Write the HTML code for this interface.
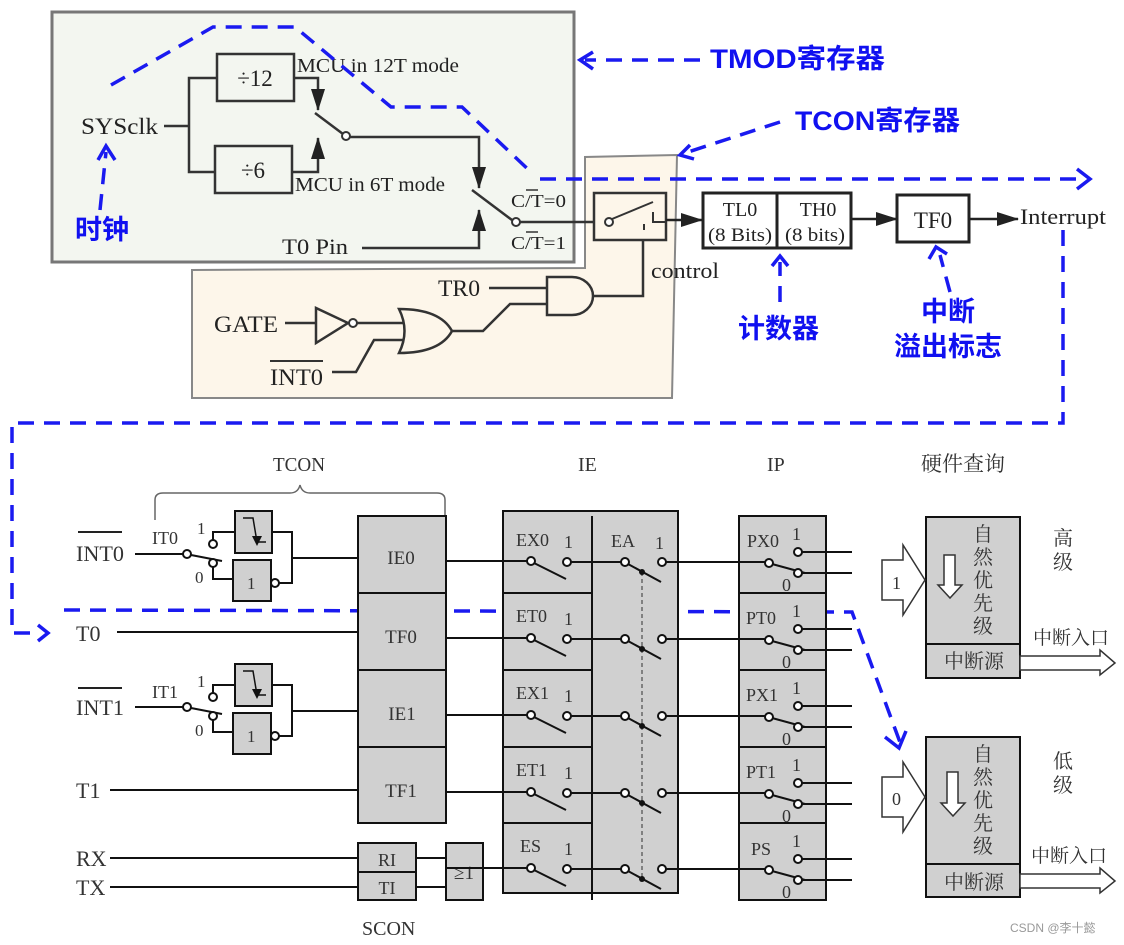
<!DOCTYPE html>
<html><head><meta charset="utf-8"><style>
html,body{margin:0;padding:0;background:#fff;}
svg{display:block;}
.s{font-family:"Liberation Serif","Noto Serif CJK SC",serif;fill:#222;}
.b{font-family:"Liberation Sans","Noto Sans CJK SC",sans-serif;font-weight:bold;fill:#1010f0;}
.k{font-family:"Liberation Serif","Noto Serif CJK SC",serif;fill:#333;}
</style></head><body>
<svg width="1124" height="945" viewBox="0 0 1124 945" xmlns="http://www.w3.org/2000/svg">
<defs>
<marker id="ah2" markerWidth="22" markerHeight="14" refX="21" refY="7" orient="auto" markerUnits="userSpaceOnUse"><path d="M0,0 L22,7 L0,14z" fill="#222"/></marker>
<g id="ierow">
 <line x1="446" y1="561" x2="528" y2="561" stroke="#111" stroke-width="2"/>
 <circle cx="531" cy="561" r="4" fill="#fff" stroke="#111" stroke-width="2"/>
 <line x1="534" y1="563" x2="566" y2="579" stroke="#111" stroke-width="2"/>
 <circle cx="567" cy="562" r="4" fill="#fff" stroke="#111" stroke-width="2"/>
 <line x1="571" y1="562" x2="621" y2="562" stroke="#111" stroke-width="2"/>
 <circle cx="625" cy="562" r="4" fill="#fff" stroke="#111" stroke-width="2"/>
 <line x1="628" y1="564" x2="661" y2="582" stroke="#111" stroke-width="2"/>
 <circle cx="642" cy="572" r="3" fill="#111"/>
 <circle cx="662" cy="562" r="4" fill="#fff" stroke="#111" stroke-width="2"/>
 <line x1="666" y1="562" x2="765" y2="562" stroke="#111" stroke-width="2"/>
 <circle cx="769" cy="563" r="4" fill="#fff" stroke="#111" stroke-width="2"/>
 <line x1="772" y1="564" x2="805" y2="573" stroke="#111" stroke-width="2"/>
 <circle cx="798" cy="552" r="4" fill="#fff" stroke="#111" stroke-width="2"/>
 <circle cx="798" cy="573" r="4" fill="#fff" stroke="#111" stroke-width="2"/>
 <line x1="802" y1="552" x2="852" y2="552" stroke="#111" stroke-width="2"/>
 <line x1="802" y1="573" x2="852" y2="573" stroke="#111" stroke-width="2"/>
 <text x="564" y="548" class="k" font-size="18">1</text>
 <text x="792" y="540" class="k" font-size="18">1</text>
 <text x="782" y="591" class="k" font-size="18">0</text>
</g>
<g id="intblk">
 <line x1="135" y1="554" x2="183" y2="554" stroke="#111" stroke-width="2"/>
 <circle cx="187" cy="554" r="4" fill="#fff" stroke="#111" stroke-width="2"/>
 <line x1="191" y1="555" x2="222" y2="561" stroke="#111" stroke-width="2"/>
 <circle cx="213" cy="544" r="4" fill="#fff" stroke="#111" stroke-width="2"/>
 <circle cx="213" cy="563" r="4" fill="#fff" stroke="#111" stroke-width="2"/>
 <polyline points="213,540 213,532 235,532" fill="none" stroke="#111" stroke-width="2"/>
 <polyline points="213,567 213,579 233,579" fill="none" stroke="#111" stroke-width="2"/>
 <rect x="235" y="511" width="37" height="42" fill="#d0d0d0" stroke="#111" stroke-width="2"/>
 <polyline points="243,518 253,518 257,542 266,542" fill="none" stroke="#111" stroke-width="1.5"/>
 <path d="M252,536 L262,536 L257,546z" fill="#111"/>
 <rect x="233" y="560" width="38" height="41" fill="#d0d0d0" stroke="#111" stroke-width="2"/>
 <text x="247" y="589" class="k" font-size="17">1</text>
 <circle cx="275" cy="583" r="4" fill="#fff" stroke="#111" stroke-width="2"/>
 <polyline points="272,532 292,532 292,583 279,583" fill="none" stroke="#111" stroke-width="2"/>
 <line x1="292" y1="558" x2="358" y2="558" stroke="#111" stroke-width="2"/>
 <text x="197" y="534" class="k" font-size="17">1</text>
 <text x="195" y="583" class="k" font-size="17">0</text>
</g>
</defs>

<rect x="52" y="12" width="522" height="250" fill="#f3f6f0" stroke="#777" stroke-width="3"/>
<polygon points="192,270 585,268 585,157 677,155 672,398 192,398" fill="#fdf6ea" stroke="#888" stroke-width="2"/>

<text x="81" y="134" class="s" font-size="23" textLength="77" lengthAdjust="spacingAndGlyphs">SYSclk</text>
<line x1="164" y1="126" x2="189" y2="126" stroke="#333" stroke-width="2.5"/>
<polyline points="217,78 189,78 189,172 215,172" fill="none" stroke="#333" stroke-width="2.5"/>
<rect x="217" y="54" width="77" height="47" fill="none" stroke="#333" stroke-width="2.5"/>
<text x="255" y="86" class="s" font-size="23" text-anchor="middle">÷12</text>
<rect x="215" y="146" width="77" height="47" fill="none" stroke="#333" stroke-width="2.5"/>
<text x="253" y="178" class="s" font-size="23" text-anchor="middle">÷6</text>
<polyline points="294,78 318,78 318,110" fill="none" stroke="#333" stroke-width="2.5" marker-end="url(#ah2)"/>
<polyline points="292,172 318,172 318,138" fill="none" stroke="#333" stroke-width="2.5" marker-end="url(#ah2)"/>
<text x="297" y="72" class="s" font-size="20" textLength="162" lengthAdjust="spacingAndGlyphs">MCU in 12T mode</text>
<text x="295" y="191" class="s" font-size="20" textLength="150" lengthAdjust="spacingAndGlyphs">MCU in 6T mode</text>
<line x1="315" y1="113" x2="343" y2="134" stroke="#333" stroke-width="2.5"/>
<circle cx="346" cy="136" r="4" fill="#fff" stroke="#333" stroke-width="2"/>
<polyline points="350,137 479,137 479,188" fill="none" stroke="#333" stroke-width="2.5" marker-end="url(#ah2)"/>
<line x1="472" y1="190" x2="512" y2="220" stroke="#333" stroke-width="2.5"/>
<circle cx="516" cy="222" r="4" fill="#fff" stroke="#333" stroke-width="2"/>
<text x="282" y="254" class="s" font-size="22" textLength="66" lengthAdjust="spacingAndGlyphs">T0 Pin</text>
<polyline points="362,248 479,248 479,210" fill="none" stroke="#333" stroke-width="2.5" marker-end="url(#ah2)"/>
<text x="511" y="207" class="s" font-size="18" textLength="55" lengthAdjust="spacingAndGlyphs">C/T=0</text>
<line x1="526" y1="190" x2="538" y2="190" stroke="#333" stroke-width="1.5"/>
<text x="511" y="249" class="s" font-size="18" textLength="55" lengthAdjust="spacingAndGlyphs">C/T=1</text>
<line x1="526" y1="232" x2="538" y2="232" stroke="#333" stroke-width="1.5"/>
<line x1="520" y1="222" x2="594" y2="222" stroke="#333" stroke-width="2.5"/>

<rect x="594" y="193" width="72" height="47" fill="none" stroke="#333" stroke-width="2.5"/>
<circle cx="609" cy="222" r="4" fill="#fff" stroke="#333" stroke-width="2"/>
<line x1="612" y1="219" x2="653" y2="202" stroke="#333" stroke-width="2"/>
<line x1="644" y1="224" x2="644" y2="230" stroke="#333" stroke-width="2"/>
<polyline points="653,212 653,222 666,222" fill="none" stroke="#333" stroke-width="2"/>
<line x1="666" y1="220" x2="702" y2="220" stroke="#222" stroke-width="2.5" marker-end="url(#ah2)"/>
<text x="651" y="278" class="s" font-size="22" textLength="68" lengthAdjust="spacingAndGlyphs">control</text>
<polyline points="643,240 643,296 593,296" fill="none" stroke="#333" stroke-width="2.5"/>
<rect x="703" y="193" width="74" height="55" fill="#fff" stroke="#222" stroke-width="3"/>
<rect x="777" y="193" width="74" height="55" fill="#fff" stroke="#222" stroke-width="3"/>
<text x="740" y="216" class="s" font-size="20" text-anchor="middle">TL0</text>
<text x="740" y="241" class="s" font-size="19" text-anchor="middle" textLength="64" lengthAdjust="spacingAndGlyphs">(8 Bits)</text>
<text x="818" y="216" class="s" font-size="20" text-anchor="middle">TH0</text>
<text x="815" y="241" class="s" font-size="19" text-anchor="middle" textLength="60" lengthAdjust="spacingAndGlyphs">(8 bits)</text>
<line x1="851" y1="219" x2="897" y2="219" stroke="#222" stroke-width="2.5" marker-end="url(#ah2)"/>
<rect x="897" y="195" width="72" height="47" fill="#fff" stroke="#222" stroke-width="3"/>
<text x="933" y="228" class="s" font-size="23" text-anchor="middle">TF0</text>
<line x1="969" y1="219" x2="1018" y2="219" stroke="#222" stroke-width="2.5" marker-end="url(#ah2)"/>
<text x="1020" y="224" class="s" font-size="22" textLength="86" lengthAdjust="spacingAndGlyphs">Interrupt</text>

<text x="438" y="296" class="s" font-size="23" textLength="42" lengthAdjust="spacingAndGlyphs">TR0</text>
<line x1="489" y1="288" x2="547" y2="288" stroke="#333" stroke-width="2.5"/>
<path d="M547,277 L572,277 A21,19 0 0 1 572,315 L547,315 Z" fill="none" stroke="#333" stroke-width="2.5"/>
<polyline points="547,304 510,304 483,331 452,331" fill="none" stroke="#333" stroke-width="2.5"/>
<text x="214" y="332" class="s" font-size="23" textLength="64" lengthAdjust="spacingAndGlyphs">GATE</text>
<line x1="285" y1="323" x2="316" y2="323" stroke="#333" stroke-width="2.5"/>
<polygon points="316,308 316,343 348,323" fill="none" stroke="#333" stroke-width="2.5"/>
<circle cx="353" cy="323" r="4" fill="#fff" stroke="#333" stroke-width="2"/>
<line x1="357" y1="323" x2="404" y2="323" stroke="#333" stroke-width="2.5"/>
<path d="M399,309 Q440,309 452,331 Q440,353 399,353 Q410,331 399,309Z" fill="none" stroke="#333" stroke-width="2.5"/>
<text x="270" y="385" class="s" font-size="23" textLength="53" lengthAdjust="spacingAndGlyphs">INT0</text>
<line x1="270" y1="361" x2="323" y2="361" stroke="#333" stroke-width="2"/>
<polyline points="332,372 356,372 374,340 404,340" fill="none" stroke="#333" stroke-width="2.5"/>

<g stroke="#1a1af0" stroke-width="3.5" fill="none" stroke-dasharray="16,10">
 <polyline points="111,85 213,27 295,27 391,107 462,107 532,173"/>
 <line x1="540" y1="179" x2="1085" y2="179"/>
 <polyline points="1063,230 1063,423 12,423 12,633 40,633"/>
 <polyline points="64,610 852,612 901,745"/>
 <line x1="700" y1="60" x2="585" y2="60"/>
 <line x1="780" y1="122" x2="685" y2="153"/>
 <line x1="100" y1="210" x2="106" y2="152"/>
 <line x1="780" y1="302" x2="780" y2="262"/>
 <line x1="950" y1="292" x2="940" y2="255"/>
</g>
<g stroke="#1a1af0" stroke-width="3.5" fill="none">
 <polyline points="1077,169 1090,179 1077,189"/>
 <polyline points="38,625 48,633 38,641"/>
 <polyline points="885,737 899,748 906,731"/>
 <polyline points="593,52 580,60 593,69"/>
 <polyline points="690,145 680,155 694,159"/>
 <polyline points="98,160 106,146 115,160"/>
 <polyline points="772,266 780,256 788,266"/>
 <polyline points="929,259 936,247 947,254"/>
</g>
<text x="710" y="68" class="b" font-size="27" textLength="175" lengthAdjust="spacingAndGlyphs">TMOD寄存器</text>
<text x="795" y="130" class="b" font-size="27" textLength="165" lengthAdjust="spacingAndGlyphs">TCON寄存器</text>
<text x="75" y="239" class="b" font-size="27">时钟</text>
<text x="738" y="338" class="b" font-size="27">计数器</text>
<text x="948" y="321" class="b" font-size="27" text-anchor="middle">中断</text>
<text x="948" y="356" class="b" font-size="27" text-anchor="middle">溢出标志</text>

<text x="273" y="471" class="k" font-size="20" textLength="52" lengthAdjust="spacingAndGlyphs">TCON</text>
<text x="578" y="471" class="k" font-size="20">IE</text>
<text x="767" y="471" class="k" font-size="20">IP</text>
<text x="921" y="471" class="k" font-size="21">硬件查询</text>
<path d="M155,520 L155,500 Q155,493 163,493 L290,493 Q298,493 300,485 Q302,493 310,493 L437,493 Q445,493 445,500 L445,518" fill="none" stroke="#666" stroke-width="1.5"/>

<text x="76" y="561" class="k" font-size="22" textLength="48" lengthAdjust="spacingAndGlyphs">INT0</text>
<line x1="78" y1="532" x2="122" y2="532" stroke="#222" stroke-width="2"/>
<text x="152" y="544" class="k" font-size="18">IT0</text>
<use href="#intblk"/>
<text x="76" y="715" class="k" font-size="22" textLength="48" lengthAdjust="spacingAndGlyphs">INT1</text>
<line x1="78" y1="688" x2="122" y2="688" stroke="#222" stroke-width="2"/>
<text x="152" y="698" class="k" font-size="18">IT1</text>
<use href="#intblk" transform="translate(0,153)"/>

<text x="76" y="641" class="k" font-size="22">T0</text>
<line x1="117" y1="632" x2="358" y2="632" stroke="#111" stroke-width="2"/>
<text x="76" y="798" class="k" font-size="22">T1</text>
<line x1="110" y1="790" x2="358" y2="790" stroke="#111" stroke-width="2"/>
<text x="76" y="866" class="k" font-size="22">RX</text>
<line x1="110" y1="858" x2="358" y2="858" stroke="#111" stroke-width="2"/>
<text x="76" y="895" class="k" font-size="22">TX</text>
<line x1="110" y1="887" x2="358" y2="887" stroke="#111" stroke-width="2"/>

<g fill="#d0d0d0" stroke="#111" stroke-width="2">
 <rect x="358" y="516" width="88" height="77"/>
 <rect x="358" y="593" width="88" height="77"/>
 <rect x="358" y="670" width="88" height="77"/>
 <rect x="358" y="747" width="88" height="76"/>
 <rect x="358" y="843" width="58" height="29"/>
 <rect x="358" y="872" width="58" height="28"/>
 <rect x="446" y="843" width="37" height="57"/>
 <rect x="503" y="511" width="175" height="382"/>
 <rect x="739" y="516" width="87" height="384"/>
 <rect x="926" y="517" width="94" height="161"/>
 <rect x="926" y="737" width="94" height="160"/>
</g>
<g stroke="#111" stroke-width="2">
 <line x1="592" y1="516" x2="592" y2="900"/>
 <line x1="503" y1="593" x2="592" y2="593"/><line x1="503" y1="670" x2="592" y2="670"/>
 <line x1="503" y1="747" x2="592" y2="747"/><line x1="503" y1="823" x2="592" y2="823"/>
 <line x1="739" y1="593" x2="826" y2="593"/><line x1="739" y1="670" x2="826" y2="670"/>
 <line x1="739" y1="747" x2="826" y2="747"/><line x1="739" y1="823" x2="826" y2="823"/>
 <line x1="926" y1="644" x2="1020" y2="644"/>
 <line x1="926" y1="864" x2="1020" y2="864"/>
 <line x1="416" y1="858" x2="446" y2="858"/><line x1="416" y1="887" x2="446" y2="887"/>
 <line x1="483" y1="868" x2="503" y2="868"/>
</g>
<text x="401" y="564" class="k" font-size="19" text-anchor="middle">IE0</text>
<text x="401" y="643" class="k" font-size="19" text-anchor="middle">TF0</text>
<text x="402" y="720" class="k" font-size="19" text-anchor="middle">IE1</text>
<text x="401" y="797" class="k" font-size="19" text-anchor="middle">TF1</text>
<text x="387" y="866" class="k" font-size="18" text-anchor="middle">RI</text>
<text x="387" y="894" class="k" font-size="18" text-anchor="middle">TI</text>
<text x="464" y="879" class="k" font-size="19" text-anchor="middle">≥1</text>
<text x="362" y="935" class="k" font-size="20">SCON</text>
<text x="611" y="547" class="k" font-size="18">EA</text>
<text x="655" y="549" class="k" font-size="18">1</text>

<line x1="642" y1="572" x2="642" y2="880" stroke="#666" stroke-width="1.5" stroke-dasharray="4,3"/>
<use href="#ierow"/>
<use href="#ierow" transform="translate(0,77)"/>
<use href="#ierow" transform="translate(0,154)"/>
<use href="#ierow" transform="translate(0,231)"/>
<use href="#ierow" transform="translate(0,307)"/>
<g class="k" font-size="18">
 <text x="516" y="546">EX0</text><text x="516" y="622">ET0</text><text x="516" y="699">EX1</text><text x="516" y="776">ET1</text><text x="520" y="852">ES</text>
 <text x="747" y="547">PX0</text><text x="746" y="624">PT0</text><text x="746" y="701">PX1</text><text x="746" y="778">PT1</text><text x="751" y="855">PS</text>
</g>

<g fill="#fff" stroke="#333" stroke-width="1.5">
 <polygon points="882,560 903,560 903,545 925,580 903,615 903,600 882,600"/>
 <polygon points="882,777 903,777 903,762 925,797 903,832 903,817 882,817"/>
 <polygon points="944,555 955,555 955,585 962,585 950,598 938,585 944,585"/>
 <polygon points="947,772 958,772 958,803 965,803 953,816 941,803 947,803"/>
 <polygon points="1020,656 1100,656 1100,650 1115,663 1100,675 1100,670 1020,670"/>
 <polygon points="1020,874 1100,874 1100,868 1115,881 1100,893 1100,888 1020,888"/>
</g>
<text x="892" y="589" class="k" font-size="18">1</text>
<text x="892" y="805" class="k" font-size="18">0</text>
<g class="k" font-size="20" text-anchor="middle">
 <text x="983" y="541">自</text><text x="983" y="564">然</text><text x="983" y="587">优</text><text x="983" y="610">先</text><text x="983" y="633">级</text>
 <text x="983" y="761">自</text><text x="983" y="784">然</text><text x="983" y="807">优</text><text x="983" y="830">先</text><text x="983" y="853">级</text>
 <text x="974" y="668">中断源</text>
 <text x="974" y="889">中断源</text>
 <text x="1063" y="545">高</text><text x="1063" y="569">级</text>
 <text x="1063" y="768">低</text><text x="1063" y="792">级</text>
</g>
<text x="1033" y="644" class="k" font-size="19">中断入口</text>
<text x="1031" y="862" class="k" font-size="19">中断入口</text>
<text x="1010" y="932" font-family="Liberation Sans,Noto Sans CJK SC,sans-serif" font-size="12" fill="#999">CSDN @李十懿</text>
</svg>
</body></html>
